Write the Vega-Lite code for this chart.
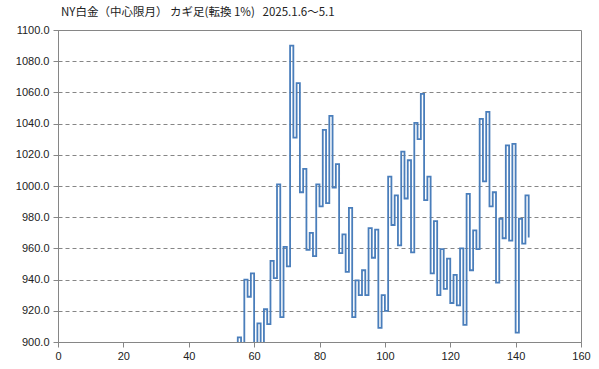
{
  "$schema": "https://vega.github.io/schema/vega-lite/v6.json",
  "width": 523,
  "height": 312,
  "autosize": {"type": "none"},
  "padding": {"left": 58, "top": 30, "right": 18, "bottom": 27},
  "background": "white",
  "title": {
    "text": "NY白金（中心限月） カギ足(転換 1%)\u00a0\u00a0\u00a02025.1.6～5.1",
    "anchor": "start",
    "frame": "group",
    "dx": 3,
    "offset": 6,
    "font": "Noto Sans CJK JP",
    "fontSize": 11.5,
    "fontWeight": "normal",
    "color": "#222222"
  },
  "data": {
    "values": [
      {"n": 54, "price": 890}, {"n": 55, "price": 903}, {"n": 56, "price": 893}, {"n": 57, "price": 940},
      {"n": 58, "price": 929}, {"n": 59, "price": 944}, {"n": 60, "price": 896}, {"n": 61, "price": 912},
      {"n": 62, "price": 898}, {"n": 63, "price": 921}, {"n": 64, "price": 911.5}, {"n": 65, "price": 952},
      {"n": 66, "price": 941}, {"n": 67, "price": 1001}, {"n": 68, "price": 916}, {"n": 69, "price": 961},
      {"n": 70, "price": 948.5}, {"n": 71, "price": 1090}, {"n": 72, "price": 1031}, {"n": 73, "price": 1066},
      {"n": 74, "price": 996}, {"n": 75, "price": 1011}, {"n": 76, "price": 959}, {"n": 77, "price": 970},
      {"n": 78, "price": 955}, {"n": 79, "price": 1001}, {"n": 80, "price": 987}, {"n": 81, "price": 1036},
      {"n": 82, "price": 989}, {"n": 83, "price": 1045}, {"n": 84, "price": 999}, {"n": 85, "price": 1014},
      {"n": 86, "price": 957}, {"n": 87, "price": 969}, {"n": 88, "price": 945}, {"n": 89, "price": 986},
      {"n": 90, "price": 916}, {"n": 91, "price": 939.5}, {"n": 92, "price": 930}, {"n": 93, "price": 946},
      {"n": 94, "price": 930}, {"n": 95, "price": 973}, {"n": 96, "price": 954}, {"n": 97, "price": 972},
      {"n": 98, "price": 909}, {"n": 99, "price": 930}, {"n": 100, "price": 920}, {"n": 101, "price": 1006},
      {"n": 102, "price": 975}, {"n": 103, "price": 994}, {"n": 104, "price": 962}, {"n": 105, "price": 1022},
      {"n": 106, "price": 992}, {"n": 107, "price": 1016.5}, {"n": 108, "price": 957.5}, {"n": 109, "price": 1040.5},
      {"n": 110, "price": 1030}, {"n": 111, "price": 1059}, {"n": 112, "price": 991}, {"n": 113, "price": 1006},
      {"n": 114, "price": 944}, {"n": 115, "price": 977.5}, {"n": 116, "price": 930}, {"n": 117, "price": 959.5},
      {"n": 118, "price": 934}, {"n": 119, "price": 953.5}, {"n": 120, "price": 925}, {"n": 121, "price": 943},
      {"n": 122, "price": 923.5}, {"n": 123, "price": 960}, {"n": 124, "price": 911}, {"n": 125, "price": 995},
      {"n": 126, "price": 946}, {"n": 127, "price": 971.5}, {"n": 128, "price": 959.5}, {"n": 129, "price": 1043},
      {"n": 130, "price": 1003}, {"n": 131, "price": 1047.5}, {"n": 132, "price": 987}, {"n": 133, "price": 996},
      {"n": 134, "price": 938}, {"n": 135, "price": 979}, {"n": 136, "price": 966.5}, {"n": 137, "price": 1026},
      {"n": 138, "price": 965}, {"n": 139, "price": 1027}, {"n": 140, "price": 906}, {"n": 141, "price": 979},
      {"n": 142, "price": 963}, {"n": 143, "price": 994}, {"n": 144, "price": 967}
    ]
  },
  "mark": {
    "type": "line",
    "interpolate": "step-after",
    "clip": true,
    "color": "#4a7ebb",
    "strokeWidth": 1.8,
    "strokeJoin": "miter"
  },
  "encoding": {
    "x": {
      "field": "n",
      "type": "quantitative",
      "scale": {"domain": [0, 160], "nice": false, "zero": false},
      "axis": {
        "values": [0, 20, 40, 60, 80, 100, 120, 140, 160],
        "title": null,
        "grid": false,
        "domainColor": "#868686",
        "tickColor": "#868686",
        "tickSize": 5,
        "labelFont": "Liberation Sans",
        "labelFontSize": 11,
        "labelColor": "#222222",
        "labelPadding": 3,
        "labelFlush": false,
        "labelOverlap": false
      }
    },
    "y": {
      "field": "price",
      "type": "quantitative",
      "scale": {"domain": [900, 1100], "nice": false, "zero": false},
      "axis": {
        "values": [900, 920, 940, 960, 980, 1000, 1020, 1040, 1060, 1080, 1100],
        "format": ".1f",
        "title": null,
        "grid": true,
        "gridColor": "#868686",
        "gridDash": [4, 3],
        "gridWidth": 1,
        "domainColor": "#868686",
        "tickColor": "#868686",
        "tickSize": 5,
        "labelFont": "Liberation Sans",
        "labelFontSize": 11,
        "labelColor": "#222222",
        "labelPadding": 4,
        "labelFlush": false,
        "labelOverlap": false
      }
    }
  },
  "config": {
    "view": {"stroke": "#868686", "strokeWidth": 1}
  }
}
